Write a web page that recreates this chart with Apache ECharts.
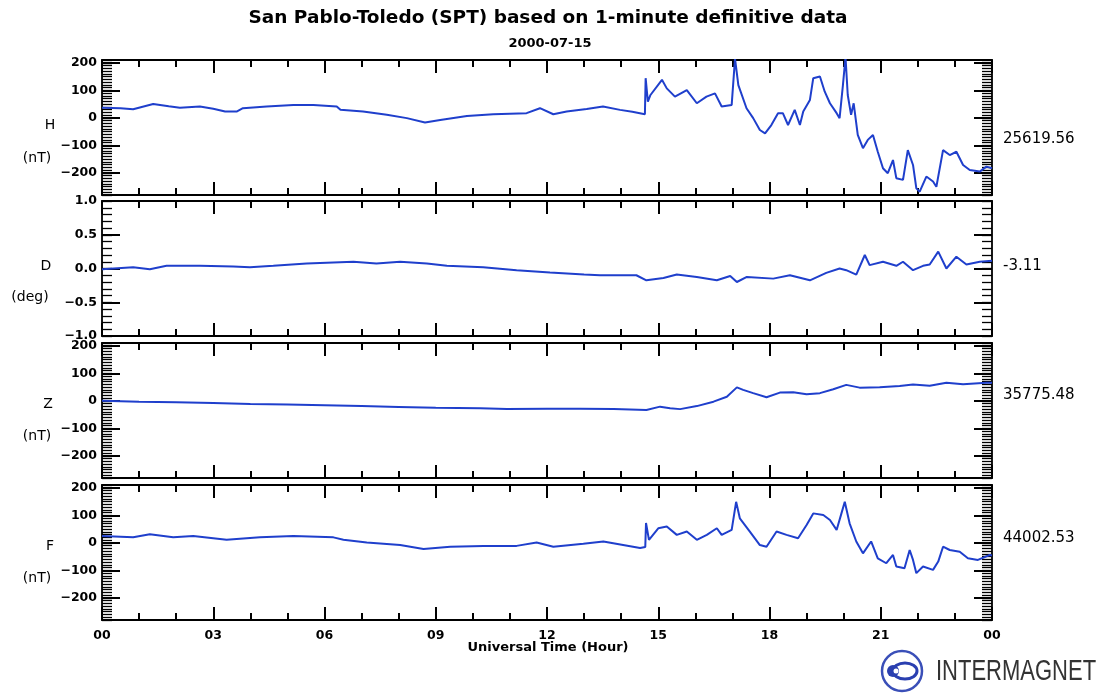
<!DOCTYPE html>
<html>
<head>
<meta charset="utf-8">
<script src="https://cdn.jsdelivr.net/npm/echarts@6/dist/echarts.min.js"></script>
<style>
  html, body { margin: 0; padding: 0; background: #fff; }
  #chart { width: 1104px; height: 700px; }
</style>
</head>
<body>
<div id="chart"></div>
<script>
// ---- Magnetogram data: San Pablo-Toledo, 2000-07-15 (hour of day, offset from baseline) ----
const hHours = [0, 0.5, 0.84, 1.38, 1.8, 2.1, 2.64, 3.0, 3.32, 3.63, 3.8, 4.44, 5.16, 5.7, 6.33, 6.43, 7.04, 7.68, 8.22, 8.71, 9.12, 9.84, 10.55, 11.45, 11.81, 12.17, 12.53, 13.07, 13.51, 13.97, 14.3, 14.64, 14.66, 14.72, 14.79, 15.1, 15.23, 15.45, 15.77, 16.04, 16.3, 16.53, 16.71, 16.98, 17.07, 17.16, 17.38, 17.56, 17.74, 17.88, 18.05, 18.23, 18.36, 18.5, 18.68, 18.82, 18.91, 19.09, 19.18, 19.36, 19.49, 19.63, 19.81, 19.89, 19.98, 20.05, 20.11, 20.2, 20.27, 20.38, 20.52, 20.65, 20.79, 20.92, 21.06, 21.19, 21.33, 21.42, 21.6, 21.73, 21.87, 21.96, 22.05, 22.23, 22.41, 22.5, 22.68, 22.86, 23.04, 23.22, 23.4, 23.67, 23.85, 24];
const hValues = [37, 35, 31, 50, 42, 37, 41, 33, 23, 23, 35, 41, 47, 47, 41, 29, 23, 11, -1, -17, -8, 7, 13, 17, 35, 13, 23, 32, 41, 29, 22, 13, 144, 59, 83, 138, 107, 77, 101, 53, 77, 89, 41, 47, 215, 119, 35, -1, -44, -56, -26, 17, 17, -26, 29, -26, 23, 65, 144, 150, 95, 53, 17, -1, 119, 220, 83, 11, 53, -62, -110, -80, -62, -123, -183, -201, -153, -219, -225, -117, -171, -256, -268, -213, -231, -250, -117, -135, -123, -171, -189, -195, -177, -183];

const dHours = [0, 0.84, 1.29, 1.74, 2.64, 3.54, 3.99, 4.62, 5.52, 6.78, 7.4, 8.04, 8.76, 9.3, 10.28, 11.18, 12.08, 13.0, 13.43, 14.41, 14.68, 15.14, 15.5, 16.04, 16.58, 16.94, 17.12, 17.39, 18.1, 18.55, 19.09, 19.53, 19.89, 20.07, 20.34, 20.57, 20.7, 21.06, 21.42, 21.6, 21.87, 22.14, 22.32, 22.55, 22.77, 23.04, 23.31, 23.67, 24];
const dValues = [-0.01, 0.02, -0.01, 0.04, 0.04, 0.03, 0.02, 0.04, 0.075, 0.1, 0.075, 0.1, 0.075, 0.04, 0.02, -0.025, -0.06, -0.09, -0.1, -0.1, -0.175, -0.14, -0.09, -0.125, -0.175, -0.11, -0.2, -0.125, -0.15, -0.1, -0.175, -0.065, 0.0, -0.025, -0.09, 0.2, 0.05, 0.1, 0.04, 0.1, -0.025, 0.04, 0.06, 0.25, 0.0, 0.175, 0.06, 0.1, 0.115];

const zHours = [0, 1, 2, 3, 4, 5, 6, 7, 8, 9, 10.2, 10.92, 12.0, 12.9, 13.8, 14.68, 15.05, 15.32, 15.59, 16.04, 16.49, 16.85, 17.12, 17.29, 17.56, 17.92, 18.28, 18.64, 19.0, 19.36, 19.72, 20.07, 20.43, 20.97, 21.51, 21.87, 22.32, 22.77, 23.22, 23.85, 24];
const zValues = [0, -3, -5, -8, -11, -13, -16, -19, -22, -25, -27, -30, -29, -29, -30, -33, -21, -27, -30, -19, -3, 15, 49, 40, 28, 13, 30, 31, 24, 28, 42, 58, 48, 49, 54, 59, 55, 66, 60, 66, 66];

const fHours = [0, 0.84, 1.29, 1.92, 2.46, 3.36, 4.26, 5.16, 6.24, 6.51, 7.14, 8.04, 8.67, 9.39, 10.29, 11.18, 11.72, 12.17, 12.98, 13.52, 14.51, 14.65, 14.67, 14.75, 15.0, 15.23, 15.5, 15.77, 16.04, 16.31, 16.58, 16.71, 16.98, 17.1, 17.2, 17.47, 17.74, 17.92, 18.19, 18.46, 18.77, 19.0, 19.18, 19.45, 19.63, 19.81, 19.94, 20.03, 20.16, 20.34, 20.52, 20.74, 20.92, 21.15, 21.33, 21.42, 21.64, 21.78, 21.87, 21.96, 22.14, 22.41, 22.55, 22.68, 22.86, 23.13, 23.35, 23.62, 23.94, 24];
const fValues = [25, 20, 31, 20, 25, 11, 20, 25, 20, 11, 1, -8, -22, -14, -11, -11, 1, -14, -3, 5, -19, -15, 72, 11, 53, 59, 29, 41, 11, 29, 53, 29, 47, 149, 89, 41, -8, -14, 41, 29, 17, 65, 107, 101, 83, 47, 107, 149, 71, 5, -38, 5, -56, -74, -44, -86, -92, -26, -62, -110, -86, -98, -68, -14, -26, -32, -56, -62, -44, -46];

// Component names, units and daily baselines shown beside each panel
const compNames = ['H', 'D', 'Z', 'F'];
const compUnits = ['(nT)', '(deg)', '(nT)', '(nT)'];
const baselines = ['25619.56', '-3.11', '35775.48', '44002.53'];

// Axis ticks
const nTTicks = [-200, -100, 0, 100, 200];
const degTicks = [-1.0, -0.5, 0.0, 0.5, 1.0];
const hourLabels = ['00', '03', '06', '09', '12', '15', '18', '21', '00'];

// ---- Layout ----
const PLOT_LEFT = 102, PLOT_RIGHT = 112, PANEL_H = 135;
const panelTops = [60, 201, 343, 485];
const LINE_COLOR = '#1f3fcc';
const FONT = 'DejaVu Sans';

const seriesData = [
  { hours: hHours, values: hValues, min: -280, max: 210, ticks: nTTicks, minorStep: 10, fmt: v => String(v).replace('-', '\u2212') },
  { hours: dHours, values: dValues, min: -1, max: 1, ticks: degTicks, minorStep: 0.1, fmt: v => v.toFixed(1).replace('-', '\u2212') },
  { hours: zHours, values: zValues, min: -280, max: 210, ticks: nTTicks, minorStep: 10, fmt: v => String(v).replace('-', '\u2212') },
  { hours: fHours, values: fValues, min: -280, max: 210, ticks: nTTicks, minorStep: 10, fmt: v => String(v).replace('-', '\u2212') }
];

const grid = [], xAxis = [], yAxis = [], series = [];
const hiddenLine = { show: false, onZero: false };

seriesData.forEach((p, i) => {
  grid.push({
    left: PLOT_LEFT, right: PLOT_RIGHT, top: panelTops[i], height: PANEL_H,
    show: true, borderColor: '#000', borderWidth: 1.8, backgroundColor: 'transparent'
  });
  const isLast = i === seriesData.length - 1;
  const xBase = { type: 'value', gridIndex: i, min: 0, max: 24, axisLine: hiddenLine, splitLine: { show: false } };
  // hourly ticks (short) and 3-hour ticks (long), bottom and top
  ['bottom', 'top'].forEach(pos => {
    xAxis.push(Object.assign({}, xBase, {
      position: pos, interval: 1,
      axisTick: { inside: true, length: 7, lineStyle: { color: '#000', width: 2 } },
      axisLabel: { show: false }
    }));
    xAxis.push(Object.assign({}, xBase, {
      position: pos, interval: 3,
      axisTick: { inside: true, length: 13, lineStyle: { color: '#000', width: 2 } },
      axisLabel: {
        show: isLast && pos === 'bottom', margin: 9,
        fontFamily: FONT, fontWeight: 'bold', fontSize: 12.5, color: '#000',
        formatter: v => hourLabels[Math.round(v / 3)]
      }
    }));
  });
  const yBase = { type: 'value', gridIndex: i, min: p.min, max: p.max, axisLine: hiddenLine, splitLine: { show: false } };
  ['left', 'right'].forEach(pos => {
    yAxis.push(Object.assign({}, yBase, {
      position: pos, interval: p.minorStep,
      axisTick: { inside: true, length: 10, lineStyle: { color: '#000', width: 1.3 } },
      axisLabel: { show: false }
    }));
    yAxis.push(Object.assign({}, yBase, {
      position: pos,
      axisTick: { inside: true, length: 18, customValues: p.ticks, lineStyle: { color: '#000', width: 2 } },
      axisLabel: {
        show: pos === 'left', customValues: p.ticks, margin: 5,
        fontFamily: FONT, fontWeight: 'bold', fontSize: 12.5, color: '#000',
        formatter: p.fmt
      }
    }));
  });
  series.push({
    type: 'line',
    xAxisIndex: i * 4,
    yAxisIndex: i * 4,
    data: p.hours.map((h, k) => [h, p.values[k]]),
    showSymbol: false,
    clip: true,
    lineStyle: { color: LINE_COLOR, width: 2 },
    animation: false
  });
});

// Left-side component names and units, right-side baselines
const labelPos = [
  { name: [50, 125], unit: [37, 158], base: 139 },
  { name: [46, 266], unit: [30, 297], base: 266 },
  { name: [48, 404], unit: [37, 436], base: 395 },
  { name: [50, 546], unit: [37, 578], base: 538 }
];
const graphic = [];
labelPos.forEach((lp, i) => {
  graphic.push({ type: 'text', x: lp.name[0], y: lp.name[1],
    style: { text: compNames[i], font: '14px "DejaVu Sans"', fill: '#000', textAlign: 'center', textVerticalAlign: 'middle' } });
  graphic.push({ type: 'text', x: lp.unit[0], y: lp.unit[1],
    style: { text: compUnits[i], font: '14px "DejaVu Sans"', fill: '#000', textAlign: 'center', textVerticalAlign: 'middle' } });
  graphic.push({ type: 'text', x: 1003, y: lp.base,
    style: { text: baselines[i], font: '15px "DejaVu Sans"', fill: '#000', textAlign: 'left', textVerticalAlign: 'middle' } });
});
// Titles and x-axis name
graphic.push({ type: 'text', x: 548, y: 18,
  style: { text: 'San Pablo-Toledo (SPT) based on 1-minute definitive data', font: 'bold 18.5px "DejaVu Sans"', fill: '#000', textAlign: 'center', textVerticalAlign: 'middle' } });
graphic.push({ type: 'text', x: 550, y: 44,
  style: { text: '2000-07-15', font: 'bold 13px "DejaVu Sans"', fill: '#000', textAlign: 'center', textVerticalAlign: 'middle' } });
graphic.push({ type: 'text', x: 548, y: 648,
  style: { text: 'Universal Time (Hour)', font: 'bold 13px "DejaVu Sans"', fill: '#000', textAlign: 'center', textVerticalAlign: 'middle' } });
// INTERMAGNET logo
graphic.push({ type: 'circle', shape: { cx: 902, cy: 671, r: 20 }, style: { fill: '#fff', stroke: '#3a4fb8', lineWidth: 2.5 } });
graphic.push({ type: 'ellipse', shape: { cx: 905, cy: 671, rx: 12, ry: 8 }, style: { fill: 'none', stroke: '#2a3fb0', lineWidth: 3 } });
graphic.push({ type: 'circle', shape: { cx: 893, cy: 671, r: 6 }, style: { fill: '#2a3fb0' } });
graphic.push({ type: 'circle', shape: { cx: 896, cy: 671, r: 2.5 }, style: { fill: '#fff' } });
graphic.push({ type: 'text', x: 936, y: 672, scaleY: 1.35,
  style: { text: 'INTERMAGNET', font: '22px "Liberation Sans"', fill: '#333', textAlign: 'left', textVerticalAlign: 'middle' } });

const chart = echarts.init(document.getElementById('chart'), null, { renderer: 'canvas' });
chart.setOption({
  animation: false,
  backgroundColor: '#fff',
  grid, xAxis, yAxis, series, graphic
});
</script>
</body>
</html>
